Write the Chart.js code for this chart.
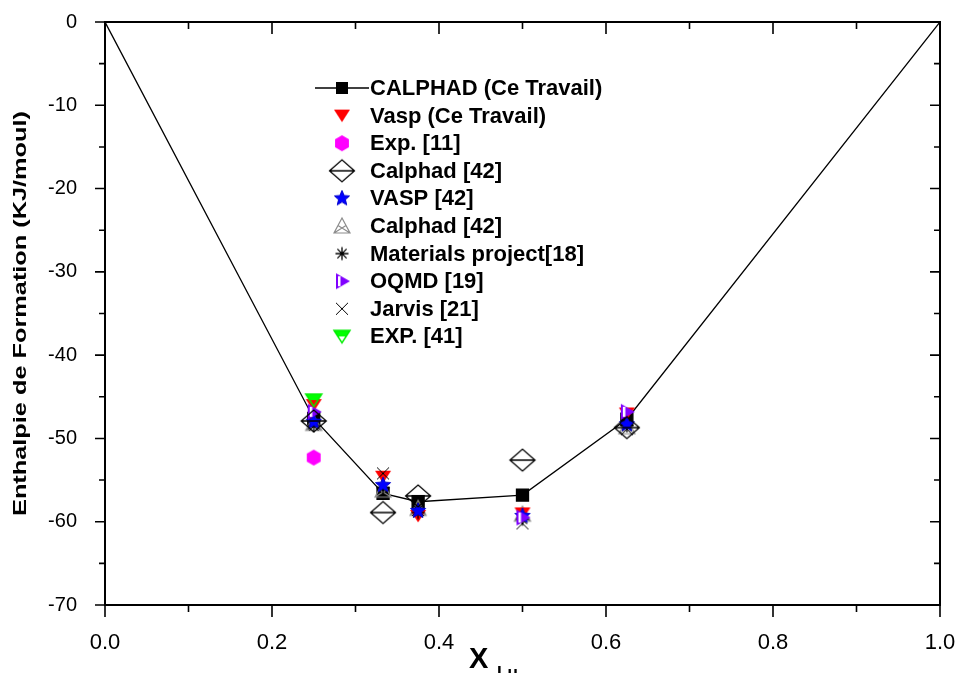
<!DOCTYPE html>
<html>
<head>
<meta charset="utf-8">
<script src="https://cdn.jsdelivr.net/npm/chart.js@4.4.1/dist/chart.umd.min.js"></script>
<style>
  body { margin: 0; background: #fff; }
  #wrap { width: 963px; height: 673px; }
</style>
</head>
<body>
<div id="wrap"><canvas id="enthalpyChart" width="963" height="673"></canvas></div>
<script>
// compositions (x = X_Lu)
const xAll = [0, 0.25, 0.333, 0.375, 0.5, 0.625, 1];
const xPhases = [0.25, 0.333, 0.375, 0.5, 0.625];
const exp11X = [0.25];
const oqmdX = [0.25, 0.5, 0.625];
const exp41X = [0.25];

// enthalpies of formation (kJ/mol)
const calphadCT = [0, -47.6, -56.6, -57.6, -56.8, -47.7, 0];
const vaspCT = [-46.0, -54.6, -59.3, -59.0, -47.0];
const exp11 = [-52.3];
const calphad42 = [-47.9, -58.9, -56.9, -52.6, -48.7];
const vasp42 = [-48.0, -55.6, -58.7, -59.3, -48.3];
const calphad42b = [-48.2, -56.2, -58.4, -59.1, -48.6];
const mp18 = [-48.5, -55.9, -58.9, -59.7, -48.5];
const oqmd19 = [-46.8, -59.5, -46.8];
const jarvis21 = [-48.2, -54.2, -58.6, -60.2, -48.9];
const exp41 = [-45.4];

// tick labels
const xTickLabels = ["0.0", "0.2", "0.4", "0.6", "0.8", "1.0"];
const yTickLabels = ["-70", "-60", "-50", "-40", "-30", "-20", "-10", "0"];

const legendLabels = ["CALPHAD (Ce Travail)", "Vasp (Ce Travail)", "Exp. [11]", "Calphad [42]",
  "VASP [42]", "Calphad [42]", "Materials project[18]", "OQMD [19]", "Jarvis [21]", "EXP. [41]"];

function pts(xs, ys) { return ys.map((v, i) => ({ x: xs[i], y: v })); }

// marker images
function marker(w, h, draw) {
  const c = document.createElement('canvas');
  c.width = w; c.height = h;
  const g = c.getContext('2d');
  draw(g, w / 2, h / 2);
  return c;
}
function downTri(g, cx, cy, s) {
  g.beginPath();
  g.moveTo(cx - s, cy - s * 0.75); g.lineTo(cx + s, cy - s * 0.75); g.lineTo(cx, cy + s * 0.8);
  g.closePath();
}
const mRed = marker(20, 20, (g, cx, cy) => { downTri(g, cx, cy, 8); g.fillStyle = '#ff0000'; g.fill(); });
const mHex = marker(20, 20, (g, cx, cy) => {
  g.beginPath();
  for (let i = 0; i < 6; i++) { const a = Math.PI / 6 + i * Math.PI / 3; g.lineTo(cx + 8 * Math.cos(a), cy + 8 * Math.sin(a)); }
  g.closePath(); g.fillStyle = '#ff00ff'; g.fill();
});
const mDiamond = marker(30, 26, (g, cx, cy) => {
  g.strokeStyle = '#000'; g.lineWidth = 1.3;
  g.beginPath();
  g.moveTo(cx - 12.5, cy); g.lineTo(cx, cy - 11); g.lineTo(cx + 12.5, cy); g.lineTo(cx, cy + 11); g.closePath();
  g.moveTo(cx - 12.5, cy); g.lineTo(cx + 12.5, cy);
  g.stroke();
});
const mStar = marker(20, 20, (g, cx, cy) => {
  g.beginPath();
  for (let i = 0; i < 10; i++) {
    const r = i % 2 === 0 ? 8 : 3.6; const a = -Math.PI / 2 + i * Math.PI / 5;
    g.lineTo(cx + r * Math.cos(a), cy + r * Math.sin(a));
  }
  g.closePath(); g.fillStyle = '#0000ff'; g.fill();
  g.strokeStyle = '#0000cc'; g.lineWidth = 1; g.stroke();
});
const mGrayTri = marker(20, 20, (g, cx, cy) => {
  g.strokeStyle = '#8c8c8c'; g.lineWidth = 1.2;
  const t = [cx, cy - 8], l = [cx - 8, cy + 7], r = [cx + 8, cy + 7];
  g.beginPath();
  g.moveTo(...t); g.lineTo(...l); g.lineTo(...r); g.closePath();
  g.moveTo(...l); g.lineTo((t[0] + r[0]) / 2, (t[1] + r[1]) / 2);
  g.moveTo(...r); g.lineTo((t[0] + l[0]) / 2, (t[1] + l[1]) / 2);
  g.stroke();
});
const mAster = marker(18, 18, (g, cx, cy) => {
  g.strokeStyle = '#000'; g.lineWidth = 1.3; g.beginPath();
  for (let i = 0; i < 4; i++) { const a = i * Math.PI / 4; g.moveTo(cx - 6.5 * Math.cos(a), cy - 6.5 * Math.sin(a)); g.lineTo(cx + 6.5 * Math.cos(a), cy + 6.5 * Math.sin(a)); }
  g.stroke();
});
const mOqmd = marker(20, 20, (g, cx, cy) => {
  g.beginPath(); g.moveTo(cx - 6, cy - 8); g.lineTo(cx + 8, cy); g.lineTo(cx - 6, cy + 8); g.closePath();
  g.fillStyle = '#8000ff'; g.fill();
  g.fillStyle = '#ffffff'; g.fillRect(cx - 4, cy - 5, 2.5, 10);
});
const mCross = marker(18, 18, (g, cx, cy) => {
  g.strokeStyle = '#000'; g.lineWidth = 1; g.beginPath();
  g.moveTo(cx - 6, cy - 6); g.lineTo(cx + 6, cy + 6); g.moveTo(cx + 6, cy - 6); g.lineTo(cx - 6, cy + 6);
  g.stroke();
});
const mGreen = marker(20, 20, (g, cx, cy) => {
  downTri(g, cx, cy, 8);
  g.save(); g.clip(); g.fillStyle = '#00ff00'; g.fillRect(0, 0, 20, cy); g.restore();
  downTri(g, cx, cy, 8); g.strokeStyle = '#00ee00'; g.lineWidth = 1.5; g.stroke();
});
const legendMarkers = [null, mRed, mHex, mDiamond, mStar, mGrayTri, mAster, mOqmd, mCross, mGreen];

function scatterSet(label, data, img, order) {
  return { label, data, pointStyle: img, pointRadius: 8, showLine: false, order };
}

const framePlugin = {
  id: 'frame',
  afterDraw(chart) {
    const { ctx, chartArea: a, scales: { x, y } } = chart;
    ctx.save();
    ctx.strokeStyle = '#000';
    ctx.lineWidth = 2;
    ctx.beginPath();
    ctx.moveTo(a.left, a.top); ctx.lineTo(a.right, a.top); ctx.lineTo(a.right, a.bottom);
    ctx.stroke();
    ctx.lineWidth = 1.6;
    ctx.beginPath();
    for (let i = 0; i <= 10; i++) {
      const px = x.getPixelForValue(i / 10);
      const L = i % 2 === 0 ? 12 : 7;
      ctx.moveTo(px, a.bottom); ctx.lineTo(px, a.bottom + L);
      ctx.moveTo(px, a.top); ctx.lineTo(px, a.top + L);
    }
    for (let i = 0; i <= 14; i++) {
      const py = y.getPixelForValue(-i * 5);
      const L = i % 2 === 0 ? 10 : 6;
      ctx.moveTo(a.left - L, py); ctx.lineTo(a.left, py);
      ctx.moveTo(a.right, py); ctx.lineTo(a.right - L, py);
    }
    ctx.stroke();

    // y title (stretched along its length)
    ctx.fillStyle = '#000';
    ctx.font = 'bold 18px "Liberation Sans", Arial, sans-serif';
    const yt = 'Enthalpie de Formation (KJ/moul)';
    const w = ctx.measureText(yt).width;
    ctx.save();
    ctx.translate(21, (a.top + a.bottom) / 2);
    ctx.rotate(-Math.PI / 2);
    ctx.scale(405 / w, 1);
    ctx.textAlign = 'center'; ctx.textBaseline = 'middle';
    ctx.fillText(yt, 0, 0);
    ctx.restore();

    // x title with subscript
    ctx.textAlign = 'left'; ctx.textBaseline = 'alphabetic';
    ctx.font = 'bold 29px "Liberation Sans", Arial, sans-serif';
    ctx.fillText('X', 469, 668);
    ctx.font = 'bold 17px "Liberation Sans", Arial, sans-serif';
    ctx.fillText('Lu', 497, 678);

    // legend
    const lx = 342, tx = 370, y0 = 88, dy = 27.6;
    ctx.font = 'bold 22px "Liberation Sans", Arial, sans-serif';
    ctx.textBaseline = 'middle';
    legendLabels.forEach((lab, i) => {
      const ly = y0 + i * dy;
      if (i === 0) {
        ctx.lineWidth = 1.3;
        ctx.beginPath(); ctx.moveTo(315, ly); ctx.lineTo(369, ly); ctx.stroke();
        ctx.fillRect(lx - 6, ly - 6, 12, 12);
      } else {
        const m = legendMarkers[i];
        ctx.drawImage(m, lx - m.width / 2, ly - m.height / 2);
      }
      ctx.fillText(lab, tx, ly + 1);
    });
    ctx.restore();
  }
};

const ctx = document.getElementById('enthalpyChart').getContext('2d');
new Chart(ctx, {
  type: 'scatter',
  data: {
    datasets: [
      {
        label: legendLabels[0], data: pts(xAll, calphadCT), showLine: true,
        borderColor: '#000', borderWidth: 1.3, backgroundColor: '#000',
        pointStyle: 'rect', pointRadius: [0, 8.5, 8.5, 8.5, 8.5, 8.5, 0], order: 9
      },
      scatterSet(legendLabels[1], pts(xPhases, vaspCT), mRed, 5),
      scatterSet(legendLabels[2], pts(exp11X, exp11), mHex, 5),
      scatterSet(legendLabels[3], pts(xPhases, calphad42), mDiamond, 1),
      scatterSet(legendLabels[4], pts(xPhases, vasp42), mStar, 3),
      scatterSet(legendLabels[5], pts(xPhases, calphad42b), mGrayTri, 6),
      scatterSet(legendLabels[6], pts(xPhases, mp18), mAster, 4),
      scatterSet(legendLabels[7], pts(oqmdX, oqmd19), mOqmd, 2),
      scatterSet(legendLabels[8], pts(xPhases, jarvis21), mCross, 4),
      scatterSet(legendLabels[9], pts(exp41X, exp41), mGreen, 1)
    ]
  },
  options: {
    responsive: false,
    animation: false,
    layout: { padding: { top: 22, right: 23, left: 0, bottom: 0 } },
    plugins: {
      legend: { display: false },
      tooltip: { enabled: false }
    },
    scales: {
      x: {
        type: 'linear', min: 0, max: 1,
        grid: { display: false },
        border: { display: true, color: '#000', width: 2 },
        ticks: {
          stepSize: 0.2, padding: 17, color: '#000',
          font: { size: 22, family: '"Liberation Sans", Arial, sans-serif' },
          callback: (v) => xTickLabels[Math.round(v * 5)]
        },
        afterFit: (s) => { s.height = 68; s.paddingLeft = 0; s.paddingRight = 0; }
      },
      y: {
        type: 'linear', min: -70, max: 0,
        grid: { display: false },
        border: { display: true, color: '#000', width: 2 },
        ticks: {
          stepSize: 10, padding: 20, color: '#000',
          font: { size: 20, family: '"Liberation Sans", Arial, sans-serif' },
          callback: (v) => yTickLabels[Math.round((v + 70) / 10)]
        },
        afterFit: (s) => { s.width = 105; s.paddingTop = 0; s.paddingBottom = 0; }
      }
    }
  },
  plugins: [framePlugin]
});
</script>
</body>
</html>
